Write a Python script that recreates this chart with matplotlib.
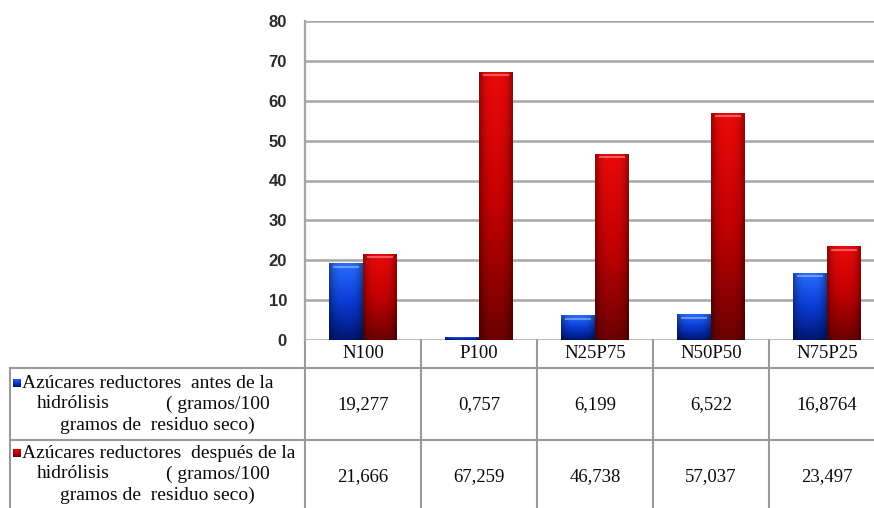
import numpy as np
import matplotlib
matplotlib.use("Agg")
import matplotlib.pyplot as plt

categories = ["N100", "P100", "N25P75", "N50P50", "N75P25"]
antes = [19.277, 0.757, 6.199, 6.522, 16.8764]
despues = [21.666, 67.259, 46.738, 57.037, 23.497]
antes_labels = ["19,277", "0,757", "6,199", "6,522", "16,8764"]
despues_labels = ["21,666", "67,259", "46,738", "57,037", "23,497"]
yticks = [0, 10, 20, 30, 40, 50, 60, 70, 80]

W, H = 874, 508
fig = plt.figure(figsize=(W / 100, H / 100), dpi=100)
fig.patch.set_facecolor("white")

# pixel overlay for table
tax = fig.add_axes([0, 0, 1, 1], zorder=0)
tax.set_xlim(0, W)
tax.set_ylim(H, 0)
tax.axis("off")

ax_left, ax_right, ax_top, ax_bot = 305, 885, 21, 340
ax = fig.add_axes([ax_left / W, 1 - ax_bot / H, (ax_right - ax_left) / W, (ax_bot - ax_top) / H], zorder=2)
ax.patch.set_alpha(0)
ax.set_xlim(0, len(categories))
ax.set_ylim(0, 80)
ax.set_yticks(yticks)
ax.set_yticklabels([str(t) for t in yticks], fontfamily="Liberation Sans", fontsize=12,
                   color="#2a2a2a", fontweight="bold")
ax.tick_params(axis="y", length=0, pad=13)
ax.set_xticks([])
for s in ["top", "right", "bottom"]:
    ax.spines[s].set_visible(False)
ax.spines["left"].set_color("#a6a6a6")
ax.spines["left"].set_linewidth(1.6)
ax.yaxis.grid(True, color="#a6a6a6", linewidth=1.8)
ax.set_axisbelow(True)


def grad_image(top, mid, bot):
    ny, nx = 64, 24
    t = np.linspace(0, 1, ny)[:, None]
    top = np.array(top) / 255.0
    mid = np.array(mid) / 255.0
    bot = np.array(bot) / 255.0
    col = np.where(t[..., None] < 0.5,
                   top + (mid - top) * (t[..., None] / 0.5),
                   mid + (bot - mid) * ((t[..., None] - 0.5) / 0.5))
    col = np.broadcast_to(col, (ny, nx, 3)).copy()
    xx = np.linspace(-1, 1, nx)
    hf = 1 - 0.35 * np.abs(xx) ** 3
    col = col * hf[None, :, None]
    return np.clip(col, 0, 1)


blue_img = grad_image((40, 110, 255), (10, 60, 215), (0, 22, 115))
red_img = grad_image((235, 10, 10), (195, 0, 0), (110, 0, 0))

x = np.arange(len(categories)) + 0.5
bw = 0.29
b1 = ax.bar(x - bw / 2, antes, bw, color="#1040d0", edgecolor="none", zorder=3)
b2 = ax.bar(x + bw / 2, despues, bw, color="#c00000", edgecolor="none", zorder=3)
for bars, img in [(b1, blue_img), (b2, red_img)]:
    for r in bars:
        x0, y0 = r.get_x(), r.get_y()
        w, h = r.get_width(), r.get_height()
        im = ax.imshow(img, extent=[x0, x0 + w, y0, y0 + h], aspect="auto", zorder=4,
                       interpolation="bilinear")
        im.set_clip_path(r)
        if h > 2:
            ax.plot([x0 + w * 0.12, x0 + w * 0.88], [y0 + h - 0.9, y0 + h - 0.9],
                    color="white", alpha=0.35, linewidth=1.5, zorder=5, solid_capstyle="butt")
ax.set_xlim(0, len(categories))
ax.set_ylim(0, 80)

# ---- table ----
lc = "#9a9a9a"
lw = 1.5
colw = (ax_right - ax_left) / len(categories)
bounds = [ax_left + i * colw for i in range(len(categories) + 1)]
row_top = 368
row_mid = 440
tax.plot([10, W], [row_top, row_top], color=lc, lw=lw)
tax.plot([10, W], [row_mid, row_mid], color=lc, lw=lw)
tax.plot([10, 10], [row_top, H], color=lc, lw=lw)
for b in bounds[:-1]:
    tax.plot([b, b], [ax_bot, H], color=lc, lw=lw)

serif = "Liberation Serif"
fs = 13.5
fs_leg = 14
tc = "#0a0a0a"
for i, c in enumerate(categories):
    cx = (bounds[i] + bounds[i + 1]) / 2
    tax.text(cx, 354, c, ha="center", va="center", fontfamily=serif, fontsize=fs, color=tc)
    tax.text(cx, 405, antes_labels[i], ha="center", va="center", fontfamily=serif, fontsize=fs, color=tc)
    tax.text(cx, 477, despues_labels[i], ha="center", va="center", fontfamily=serif, fontsize=fs, color=tc)


def legend_cell(y0, word, img):
    tax.imshow(img, extent=[13, 21, y0 + 4, y0 - 4], aspect="auto", zorder=3)
    tax.set_xlim(0, W)
    tax.set_ylim(H, 0)
    tax.text(22, y0, "Azúcares reductores  " + word + " de la", ha="left", va="center",
             fontfamily=serif, fontsize=fs_leg, color=tc)
    tax.text(37, y0 + 21, "hidrólisis", ha="left", va="center", fontfamily=serif, fontsize=fs_leg, color=tc)
    tax.text(270, y0 + 21, "( gramos/100", ha="right", va="center", fontfamily=serif, fontsize=fs_leg, color=tc)
    tax.text(157, y0 + 42, "gramos de  residuo seco)", ha="center", va="center",
             fontfamily=serif, fontsize=fs_leg, color=tc)


legend_cell(383, "antes", blue_img)
legend_cell(453, "después", red_img)

fig.savefig("out.png", dpi=100)
